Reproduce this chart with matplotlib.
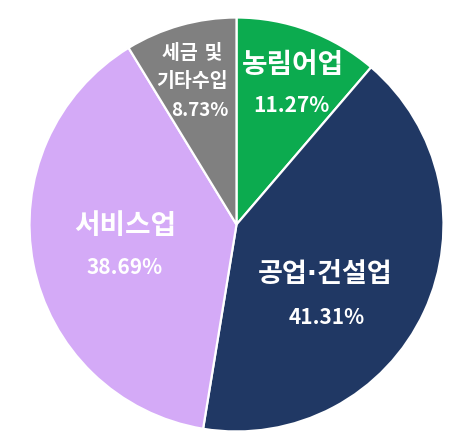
import matplotlib
import matplotlib.pyplot as plt

matplotlib.use("Agg")
plt.rcParams["font.family"] = ["Noto Sans CJK KR", "DejaVu Sans"]

# data
sectors = ["농림어업", "공업·건설업", "서비스업", "세금 및\n기타수입"]
shares = [11.27, 41.31, 38.69, 8.73]
colors = ["#0CAB4F", "#203864", "#D4AAF7", "#808080"]

# label layout (pie radius units): name position, pct position, font sizes
name_pos = [(0.27, 0.77), (0.43, -0.245), (-0.54, -0.005), (-0.213, 0.758)]
pct_pos = [(0.266, 0.575), (0.435, -0.45), (-0.54, -0.208), (-0.179, 0.551)]
name_size = [20, 19.5, 20, 14]
pct_size = [15, 15, 15, 13.5]

fig = plt.figure(figsize=(4.76, 4.46), dpi=100)
ax = fig.add_axes([0.062, 0.0325, 0.8697, 0.9283])

ax.pie(
    shares,
    colors=colors,
    startangle=90,
    counterclock=False,
    radius=1,
    wedgeprops={"edgecolor": "white", "linewidth": 1.6},
)
ax.set_xlim(-1.0, 1.0)
ax.set_ylim(-1.0, 1.0)

for name, share, npos, ppos, ns, ps in zip(sectors, shares, name_pos, pct_pos,
                                           name_size, pct_size):
    # DejaVu first so the middle dot stays narrow; hangul falls back to Noto
    ax.text(npos[0], npos[1], name, ha="center", va="center", color="white",
            fontsize=ns, fontweight="bold", linespacing=1.6,
            family=["DejaVu Sans", "Noto Sans CJK KR"])
    ax.text(ppos[0], ppos[1], f"{share:.2f}%", ha="center", va="center",
            color="white", fontsize=ps, fontweight="black")

fig.savefig("out.png", dpi=100)
